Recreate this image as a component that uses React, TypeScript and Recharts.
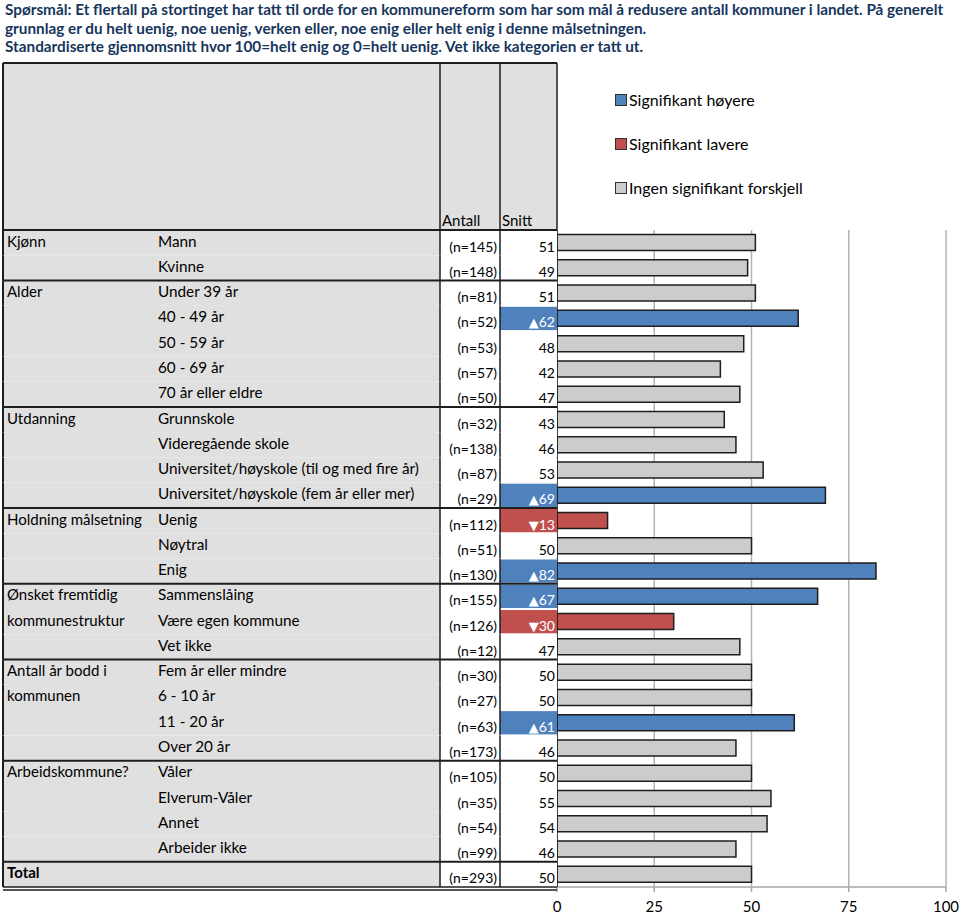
import React from "react";
import { BarChart, Bar, XAxis, YAxis, CartesianGrid, Cell } from "recharts";

const FONT = "Lato, 'Open Sans', sans-serif";

const headingLines = [
  "Spørsmål: Et flertall på stortinget har tatt til orde for en kommunereform som har som mål å redusere antall kommuner i landet. På generelt",
  "grunnlag er du helt uenig, noe uenig, verken eller, noe enig eller helt enig i denne målsetningen.",
  "Standardiserte gjennomsnitt hvor 100=helt enig og 0=helt uenig. Vet ikke kategorien er tatt ut.",
];

const groupLabels = [
  "Kjønn", "", "Alder", "", "", "", "", "Utdanning", "", "", "",
  "Holdning målsetning", "", "", "Ønsket fremtidig", "kommunestruktur", "",
  "Antall år bodd i", "kommunen", "", "", "Arbeidskommune?", "", "", "", "Total",
];

const categories = [
  "Mann", "Kvinne", "Under 39 år", "40 - 49 år", "50 - 59 år", "60 - 69 år", "70 år eller eldre",
  "Grunnskole", "Videregående skole", "Universitet/høyskole (til og med fire år)",
  "Universitet/høyskole (fem år eller mer)", "Uenig", "Nøytral", "Enig", "Sammenslåing",
  "Være egen kommune", "Vet ikke", "Fem år eller mindre", "6 - 10 år", "11 - 20 år", "Over 20 år",
  "Våler", "Elverum-Våler", "Annet", "Arbeider ikke", "",
];

const counts = [145, 148, 81, 52, 53, 57, 50, 32, 138, 87, 29, 112, 51, 130, 155, 126, 12, 30, 27, 63, 173, 105, 35, 54, 99, 293];

const snitt = [51, 49, 51, 62, 48, 42, 47, 43, 46, 53, 69, 13, 50, 82, 67, 30, 47, 50, 50, 61, 46, 50, 55, 54, 46, 50];

const significance = ["", "", "", "+", "", "", "", "", "", "", "+", "-", "", "+", "+", "-", "", "", "", "+", "", "", "", "", "", ""];

const groupStarts = [0, 2, 7, 11, 14, 17, 21, 25];

const legendItems = [
  { label: "Signifikant høyere", color: "#4f81bd" },
  { label: "Signifikant lavere", color: "#c0504d" },
  { label: "Ingen signifikant forskjell", color: "#cccccc" },
];

const xTicks = [0, 25, 50, 75, 100];

const BLUE = "#4f81bd";
const RED = "#c0504d";
const GREY = "#cccccc";
const TABLE_GREY = "#e0e0e0";
const LINE = "#1e1e1e";

const PLOT_TOP = 230;
const PLOT_BOTTOM = 887;
const ROW_H = (PLOT_BOTTOM - PLOT_TOP) / categories.length;

const data = categories.map((c, i) => ({
  id: "r" + i,
  label: c,
  value: snitt[i],
  sig: significance[i],
}));

const colorOf = (s: string) => (s === "+" ? BLUE : s === "-" ? RED : GREY);

function RowTick(props: any) {
  const { y, payload } = props;
  const i = Number(String(payload.value).slice(1));
  const top = y - ROW_H / 2;
  const sig = significance[i];
  const isStart = groupStarts.includes(i);
  const isLast = i === categories.length - 1;
  const isTotal = isLast;
  return (
    <g>
      <rect x={3} y={top} width={437} height={ROW_H} fill={TABLE_GREY} />
      <rect x={440} y={top} width={117} height={ROW_H} fill="#ffffff" />
      {sig && <rect x={500} y={top + 1} width={57} height={ROW_H - 2} fill={colorOf(sig)} />}
      <line x1={3} x2={3} y1={top} y2={top + ROW_H} stroke={LINE} strokeWidth={2} />
      <line x1={440} x2={440} y1={top} y2={top + ROW_H} stroke={LINE} strokeWidth={1.5} />
      <line x1={500} x2={500} y1={top} y2={top + ROW_H} stroke={LINE} strokeWidth={1.5} />
      {isStart && <line x1={3} x2={557} y1={top} y2={top} stroke={LINE} strokeWidth={2} />}
      {isLast && (
        <>
          <line x1={3} x2={557} y1={top + ROW_H} y2={top + ROW_H} stroke={LINE} strokeWidth={1.5} />
          <line x1={3} x2={557} y1={top + ROW_H + 3} y2={top + ROW_H + 3} stroke={LINE} strokeWidth={1.5} />
        </>
      )}
      <text x={7} y={y + 4} fontSize={15} fontFamily={FONT} fill="#000" fontWeight={isTotal ? 700 : 400}>
        {groupLabels[i]}
      </text>
      <text x={158} y={y + 4} fontSize={15.3} fontFamily={FONT} fill="#000">
        {categories[i]}
      </text>
      <text x={497} y={y + 9} fontSize={14} fontFamily={FONT} fill="#000" textAnchor="end">
        {"(n=" + counts[i] + ")"}
      </text>
      <text x={555} y={y + 9} fontSize={14} fontFamily={FONT} fill={sig ? "#ffffff" : "#000"} textAnchor="end">
        {sig ? (
          <tspan fontFamily="'DejaVu Sans', sans-serif" fontSize={13}>
            {sig === "+" ? "▲" : "▼"}
          </tspan>
        ) : null}
        <tspan>{String(snitt[i])}</tspan>
      </text>
    </g>
  );
}

export default function App() {
  return (
    <div style={{ position: "absolute", left: 0, top: 0, width: 960, height: 915, background: "#fff", fontFamily: FONT }}>
      <svg width={960} height={915} style={{ position: "absolute", left: 0, top: 0 }}>
        {headingLines.map((t, k) => (
          <text key={k} x={5} y={15 + k * 18.5} fontSize={15.3} fontWeight={700} fontFamily={FONT} fill="#17365d">
            {t}
          </text>
        ))}
        <rect x={3} y={63} width={554} height={167} fill={TABLE_GREY} />
        <line x1={3} x2={557} y1={63} y2={63} stroke={LINE} strokeWidth={2} />
        <line x1={3} x2={3} y1={63} y2={230} stroke={LINE} strokeWidth={2} />
        <line x1={440} x2={440} y1={63} y2={230} stroke={LINE} strokeWidth={1.5} />
        <line x1={500} x2={500} y1={63} y2={230} stroke={LINE} strokeWidth={1.5} />
        <line x1={557} x2={557} y1={63} y2={230} stroke={LINE} strokeWidth={1.5} />
        <text x={442} y={226} fontSize={15} fontFamily={FONT} fill="#000">Antall</text>
        <text x={502} y={226} fontSize={15} fontFamily={FONT} fill="#000">Snitt</text>
        {legendItems.map((it, k) => (
          <g key={it.label}>
            <rect x={615.5} y={94.5 + k * 44} width={11} height={11} fill={it.color} stroke="#333" strokeWidth={1} />
            <text x={629} y={106 + k * 44} fontSize={16} fontFamily={FONT} fill="#000">{it.label}</text>
          </g>
        ))}
      </svg>
      <div style={{ position: "absolute", left: 0, top: 0 }}>
        <BarChart
          width={960}
          height={915}
          data={data}
          layout="vertical"
          margin={{ top: PLOT_TOP, right: 14, bottom: 0, left: 0 }}
          barCategoryGap="18%"
        >
          <CartesianGrid horizontal={false} vertical={true} stroke="#b3b3b3" strokeWidth={1.5} />
          <XAxis
            type="number"
            domain={[0, 100]}
            ticks={xTicks}
            height={915 - PLOT_BOTTOM}
            axisLine={{ stroke: "#a6a6a6", strokeWidth: 1.5 }}
            tickLine={{ stroke: "#a6a6a6", strokeWidth: 1.5 }}
            tickSize={5}
            tickMargin={9}
            tick={{ fontSize: 15, fill: "#000", fontFamily: FONT }}
          />
          <YAxis
            type="category"
            dataKey="id"
            width={557}
            interval={0}
            axisLine={{ stroke: LINE, strokeWidth: 1.5 }}
            tickLine={false}
            tick={<RowTick />}
          />
          <Bar dataKey="value" isAnimationActive={false} stroke="#1e1e1e" strokeWidth={1.5}>
            {data.map((d, i) => (
              <Cell key={i} fill={colorOf(d.sig)} />
            ))}
          </Bar>
        </BarChart>
      </div>
    </div>
  );
}
